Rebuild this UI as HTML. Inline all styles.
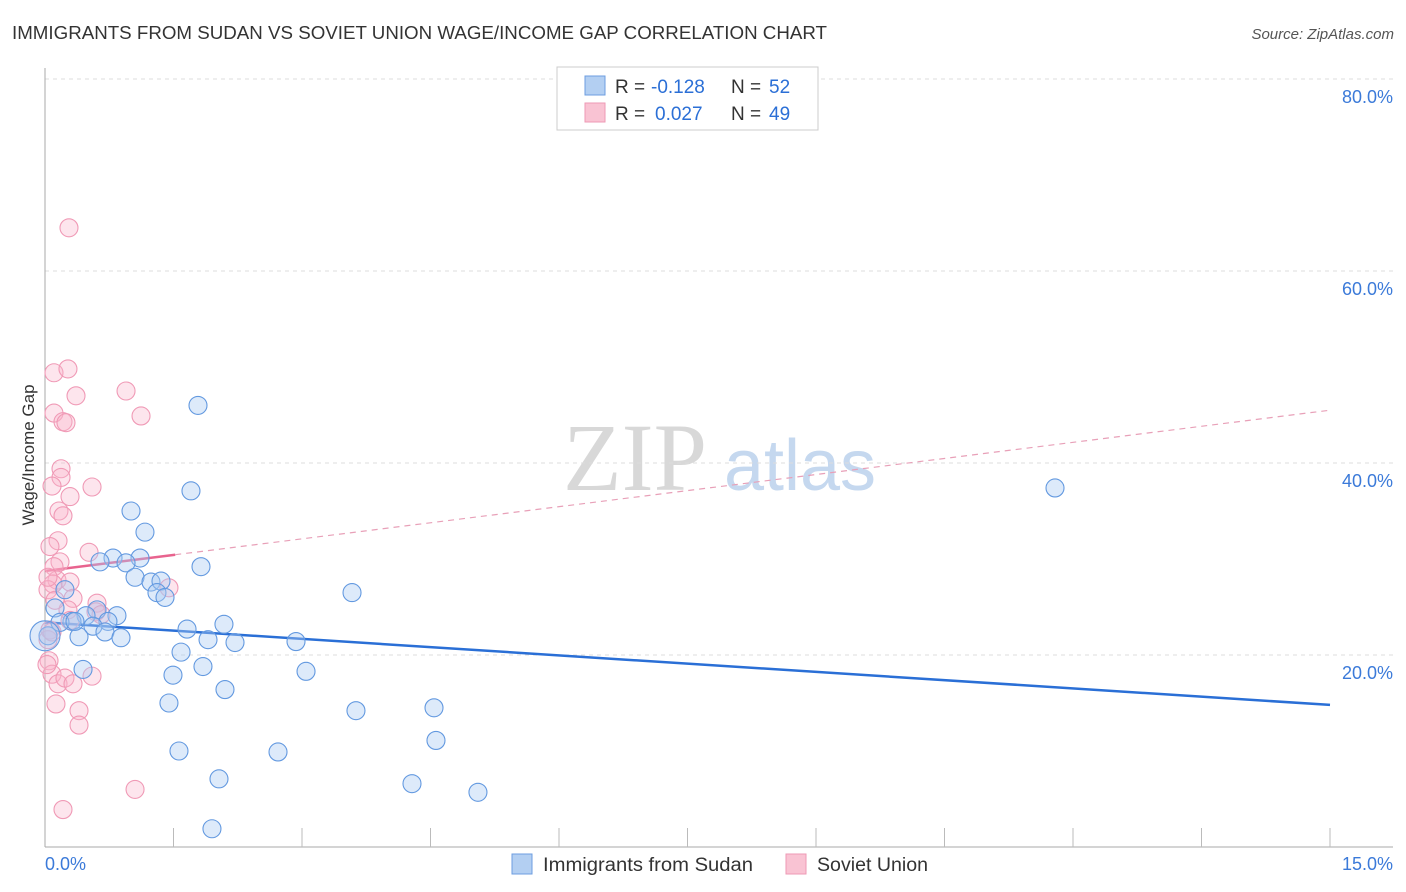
<!DOCTYPE html>
<html><head><meta charset="utf-8"><style>
body{margin:0;background:#fff;font-family:"Liberation Sans",sans-serif;}
svg{display:block}
</style></head><body>
<svg id="chart" width="1406" height="892">
<text x="12" y="39" font-size="18" fill="#333" textLength="815" lengthAdjust="spacingAndGlyphs">IMMIGRANTS FROM SUDAN VS SOVIET UNION WAGE/INCOME GAP CORRELATION CHART</text>
<text x="1394" y="39" font-size="15" fill="#555" font-style="italic" text-anchor="end">Source: ZipAtlas.com</text>
<g>
<text x="635" y="490" font-size="96" fill="#d8d8d8" font-family="Liberation Serif,serif" text-anchor="middle">ZIP</text>
<text x="800" y="490" font-size="72" fill="#c5d8ef" text-anchor="middle">atlas</text>
</g>
<g id="grid"></g>
<g id="axes"></g>
<g id="lines"></g>
<g id="points"></g>
<text transform="translate(34,455) rotate(-90)" font-size="17" fill="#333" text-anchor="middle">Wage/Income Gap</text>
<g>
<rect x="557" y="67" width="261" height="63" fill="#fff" stroke="#ccc"/>
<rect x="585" y="76" width="20" height="19" fill="#b3cff2" stroke="#6d9ee0"/>
<rect x="585" y="103" width="20" height="19" fill="#f9c3d3" stroke="#ee9ab5"/>
<text x="615" y="93" font-size="19" fill="#333">R =</text>
<text x="651" y="93" font-size="19" fill="#2b6fd6">-0.128</text>
<text x="731" y="93" font-size="19" fill="#333">N =</text>
<text x="769" y="93" font-size="19" fill="#2b6fd6">52</text>
<text x="615" y="120" font-size="19" fill="#333">R =</text>
<text x="655" y="120" font-size="19" fill="#2b6fd6">0.027</text>
<text x="731" y="120" font-size="19" fill="#333">N =</text>
<text x="769" y="120" font-size="19" fill="#2b6fd6">49</text>
</g>
<g>
<rect x="512" y="854" width="20" height="20" fill="#b3cff2" stroke="#6d9ee0"/>
<text x="543" y="871" font-size="19" fill="#333" textLength="210" lengthAdjust="spacingAndGlyphs">Immigrants from Sudan</text>
<rect x="786" y="854" width="20" height="20" fill="#f9c3d3" stroke="#ee9ab5"/>
<text x="817" y="871" font-size="19" fill="#333" textLength="111" lengthAdjust="spacingAndGlyphs">Soviet Union</text>
</g>
</svg>
<script>
const yTicks=[20,40,60,80];
const yTickLabels=["20.0%","40.0%","60.0%","80.0%"];
const xTickLabels=["0.0%","15.0%"];
const sudanX=[1.786,1.704,1.004,1.167,0.794,1.109,0.642,0.946,1.821,1.051,1.237,1.354,1.307,1.401,3.584,0.117,0.607,0.479,0.840,0.735,0.315,0.560,2.089,1.658,0.700,0.397,0.887,1.903,2.218,2.930,1.588,1.844,0.444,3.047,1.494,2.101,1.447,3.630,4.541,4.564,1.564,2.720,2.031,4.284,5.054,1.949,11.79,0.233,0.035,0.175,0.350,0.0];
const sudanY=[46.0,37.1,35.0,32.8,30.1,30.1,29.7,29.6,29.2,28.1,27.6,27.7,26.5,26.0,26.5,24.9,24.7,24.1,24.1,23.5,23.5,23.0,23.2,22.7,22.4,21.9,21.8,21.6,21.3,21.4,20.3,18.8,18.5,18.3,17.9,16.4,15.0,14.2,14.5,11.1,10.0,9.9,7.1,6.6,5.7,1.9,37.4,26.8,22.0,23.4,23.5,22.0];
const sovietX=[0.280,0.105,0.268,0.362,0.946,0.105,1.121,0.210,0.245,0.187,0.187,0.082,0.549,0.292,0.163,0.210,0.152,0.514,0.175,0.105,0.140,0.292,0.093,0.035,0.327,1.447,0.607,0.595,0.268,0.654,0.058,0.035,0.047,0.082,0.152,0.233,0.327,0.549,0.128,0.397,0.397,1.051,0.210,0.058,0.035,0.292,0.117,0.023,0.082];
const sovietY=[64.5,49.4,49.8,47.0,47.5,45.2,44.9,44.3,44.2,39.4,38.5,37.6,37.5,36.5,35.0,34.5,31.9,30.7,29.7,29.2,27.8,27.6,27.4,26.8,25.9,27.0,25.4,24.5,24.7,24.2,22.6,21.6,19.4,18.0,17.0,17.6,17.0,17.8,14.9,14.2,12.7,6.0,3.9,31.3,28.1,23.6,25.7,19.0,22.4];
const sudanTrend=[23.4,14.8];
const sovietTrend=[28.75,45.5];
const sovietSolidEnd=1.52;

const NS="http://www.w3.org/2000/svg";
const X0=45,X1=1330,Y0=847,PXY=9.6;
const xs=v=>X0+v/15*(X1-X0);
const ys=v=>Y0-v*PXY;
function mk(tag,attrs,parent){const e=document.createElementNS(NS,tag);for(const k in attrs)e.setAttribute(k,attrs[k]);parent.appendChild(e);return e;}
const grid=document.getElementById('grid'),axes=document.getElementById('axes'),lines=document.getElementById('lines'),pts=document.getElementById('points');
yTicks.forEach((t,i)=>{
 const l=mk('line',{x1:X0,x2:1393,y1:ys(t),y2:ys(t),stroke:'#ddd','stroke-dasharray':'4,4'},grid);
 
 
 const tx=mk('text',{x:1393,y:ys(t)+24,'font-size':18,fill:'#3b7ad9','text-anchor':'end'},grid);
 tx.textContent=yTickLabels[i];
 
 
});
const ya=mk('line',{x1:X0,x2:X0,y1:68,y2:Y0,stroke:'#aaa'},axes);


const xa=mk('line',{x1:X0,x2:1393,y1:Y0,y2:Y0,stroke:'#aaa'},axes);


for(let i=1;i<=10;i++){
 const t=mk('line',{x1:xs(i*1.5),x2:xs(i*1.5),y1:Y0-19,y2:Y0,stroke:'#bbb'},axes);
 
 
}
[[0,'start',X0],[15,'end',1393]].forEach((a,i)=>{
 const tx=mk('text',{x:a[2],y:870,'font-size':18,fill:'#3b7ad9','text-anchor':a[1]},axes);
 tx.textContent=xTickLabels[i];
 
 
});
function pt(x,y,r,fill,stroke,name){
 const c=mk('circle',{cx:xs(x),cy:ys(y),r:r,fill:fill,stroke:stroke,'stroke-width':1.1},pts);
 
 
}
sovietX.forEach((x,i)=>pt(x,sovietY[i],9,'rgba(248,180,202,0.35)','#f09ab6','point-soviet-union'));
sudanX.forEach((x,i)=>pt(x,sudanY[i],i===sudanX.length-1?15:9,'rgba(170,202,242,0.4)','#6399e0','point-immigrants-sudan'));
const sl=(a,b,v)=>a+(b-a)*v/15;
const ps=mk('line',{x1:xs(0),y1:ys(sovietTrend[0]),x2:xs(sovietSolidEnd),y2:ys(sl(sovietTrend[0],sovietTrend[1],sovietSolidEnd)),stroke:'#e8638e','stroke-width':2.5},lines);


const pd=mk('line',{x1:xs(sovietSolidEnd),y1:ys(sl(sovietTrend[0],sovietTrend[1],sovietSolidEnd)),x2:xs(15),y2:ys(sovietTrend[1]),stroke:'#e8a0b8','stroke-width':1.2,'stroke-dasharray':'6,5'},lines);


const bl=mk('line',{x1:xs(0),y1:ys(sudanTrend[0]),x2:xs(15),y2:ys(sudanTrend[1]),stroke:'#2a6fd6','stroke-width':2.5},lines);


</script>
</body></html>
